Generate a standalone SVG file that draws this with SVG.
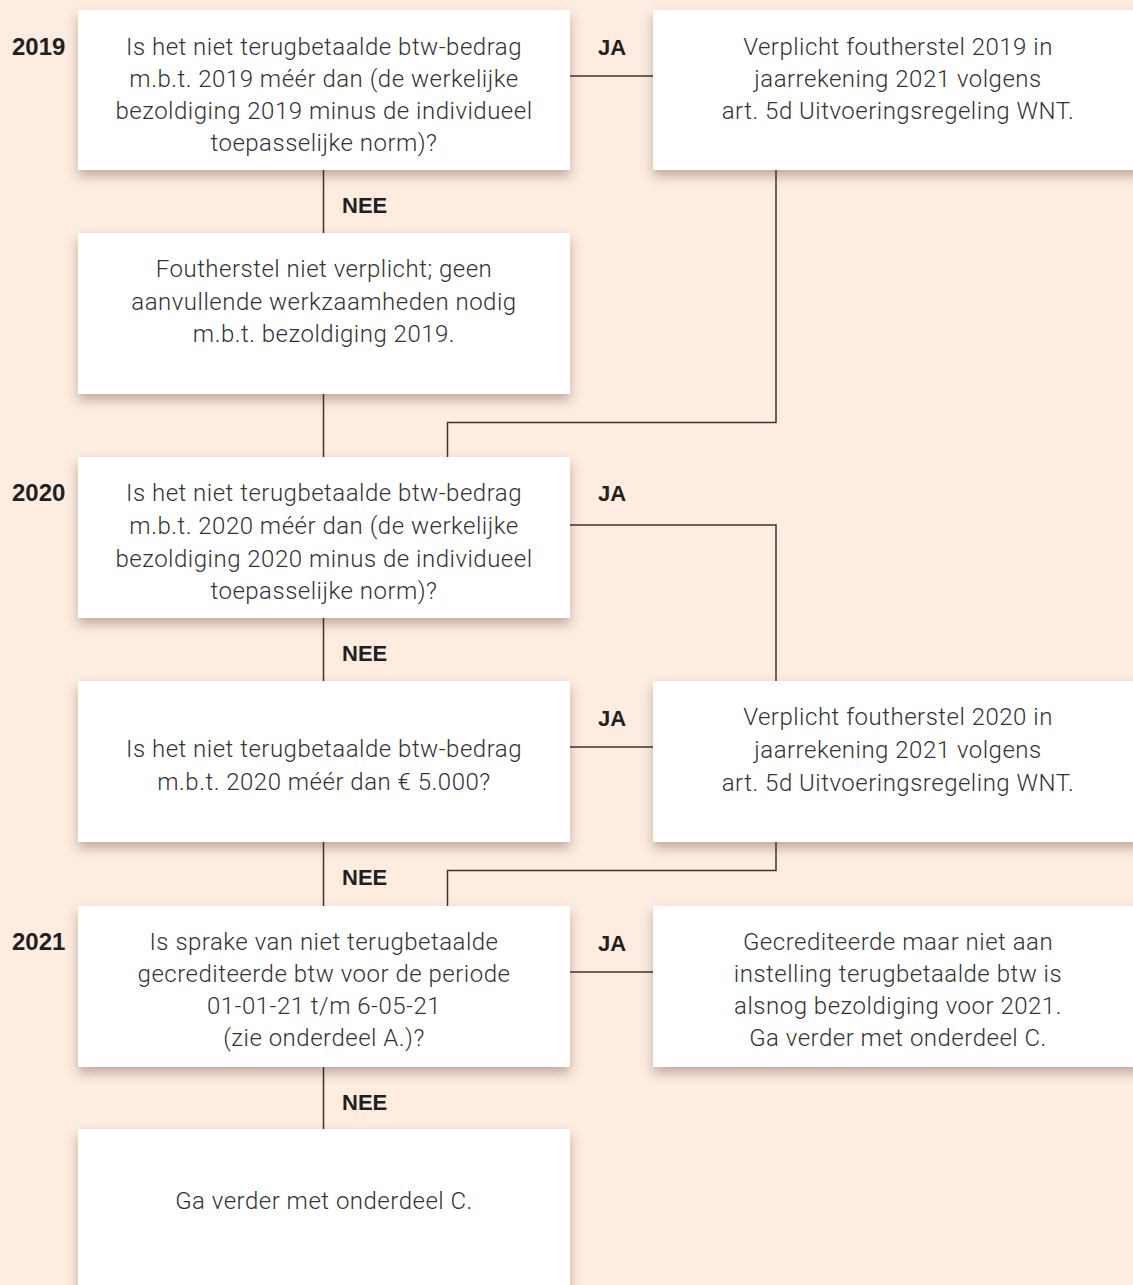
<svg xmlns="http://www.w3.org/2000/svg" width="1133" height="1285" viewBox="0 0 1133 1285">
<defs>
<filter id="sh" x="-10%" y="-20%" width="120%" height="150%">
<feDropShadow dx="0" dy="6" stdDeviation="6" flood-color="#5a3a25" flood-opacity="0.38"/>
</filter>
<style>
.box{fill:#ffffff;filter:url(#sh)}
.t{font-family:Roboto,"Liberation Sans",sans-serif;font-weight:300;font-size:24px;letter-spacing:0.5px;fill:#333333;text-anchor:middle}
.b{font-family:"Liberation Sans",Arial,sans-serif;font-weight:bold;font-size:22px;fill:#231f20}
.y{font-size:24px}
.c{fill:none;stroke:#3a3433;stroke-width:1.5}
</style>
</defs>
<rect width="1133" height="1285" fill="#fdede1"/>

<g id="q2019">
<rect class="box" x="78" y="10" width="492" height="160"/>
<text class="t" x="324" y="55">Is het niet terugbetaalde btw-bedrag</text>
<text class="t" x="324" y="87">m.b.t. 2019 méér dan (de werkelijke</text>
<text class="t" x="324" y="119">bezoldiging 2019 minus de individueel</text>
<text class="t" x="324" y="151">toepasselijke norm)?</text>
</g>
<g id="r2019">
<rect class="box" x="653" y="10" width="492" height="160"/>
<text class="t" x="898" y="55">Verplicht foutherstel 2019 in</text>
<text class="t" x="898" y="87">jaarrekening 2021 volgens</text>
<text class="t" x="898" y="119">art. 5d Uitvoeringsregeling WNT.</text>
</g>
<g id="n2019">
<rect class="box" x="78" y="233" width="492" height="161"/>
<text class="t" x="324" y="277">Foutherstel niet verplicht; geen</text>
<text class="t" x="324" y="310">aanvullende werkzaamheden nodig</text>
<text class="t" x="324" y="342">m.b.t. bezoldiging 2019.</text>
</g>
<g id="q2020">
<rect class="box" x="78" y="457" width="492" height="161"/>
<text class="t" x="324" y="501">Is het niet terugbetaalde btw-bedrag</text>
<text class="t" x="324" y="534">m.b.t. 2020 méér dan (de werkelijke</text>
<text class="t" x="324" y="567">bezoldiging 2020 minus de individueel</text>
<text class="t" x="324" y="599">toepasselijke norm)?</text>
</g>
<g id="q2020b">
<rect class="box" x="78" y="681" width="492" height="161"/>
<text class="t" x="324" y="757">Is het niet terugbetaalde btw-bedrag</text>
<text class="t" x="324" y="790">m.b.t. 2020 méér dan € 5.000?</text>
</g>
<g id="r2020">
<rect class="box" x="653" y="681" width="492" height="161"/>
<text class="t" x="898" y="725">Verplicht foutherstel 2020 in</text>
<text class="t" x="898" y="758">jaarrekening 2021 volgens</text>
<text class="t" x="898" y="791">art. 5d Uitvoeringsregeling WNT.</text>
</g>
<g id="q2021">
<rect class="box" x="78" y="906" width="492" height="161"/>
<text class="t" x="324" y="950">Is sprake van niet terugbetaalde</text>
<text class="t" x="324" y="982">gecrediteerde btw voor de periode</text>
<text class="t" x="324" y="1014">01-01-21 t/m 6-05-21</text>
<text class="t" x="324" y="1046">(zie onderdeel A.)?</text>
</g>
<g id="r2021">
<rect class="box" x="653" y="906" width="492" height="161"/>
<text class="t" x="898" y="950">Gecrediteerde maar niet aan</text>
<text class="t" x="898" y="982">instelling terugbetaalde btw is</text>
<text class="t" x="898" y="1014">alsnog bezoldiging voor 2021.</text>
<text class="t" x="898" y="1046">Ga verder met onderdeel C.</text>
</g>
<g id="end">
<rect class="box" x="78" y="1129" width="492" height="170"/>
<text class="t" x="324" y="1209">Ga verder met onderdeel C.</text>
</g>

<g id="connectors">
<path class="c" d="M323.5 170V233M323.5 394V457M323.5 618V681M323.5 842V906M323.5 1067V1129"/>
<path class="c" d="M570 76H653M570 747H653M570 972H653"/>
<path class="c" d="M570 525H776V681"/>
<path class="c" d="M776 170V422.5H447.5V457"/>
<path class="c" d="M776 842V870.5H447.5V906"/>
</g>

<g id="labels">
<text class="b y" x="12" y="55">2019</text>
<text class="b y" x="12" y="501">2020</text>
<text class="b y" x="12" y="950">2021</text>
<text class="b" x="598" y="55">JA</text>
<text class="b" x="598" y="501">JA</text>
<text class="b" x="598" y="726">JA</text>
<text class="b" x="598" y="951">JA</text>
<text class="b" x="342" y="213">NEE</text>
<text class="b" x="342" y="661">NEE</text>
<text class="b" x="342" y="885">NEE</text>
<text class="b" x="342" y="1110">NEE</text>
</g>
</svg>
